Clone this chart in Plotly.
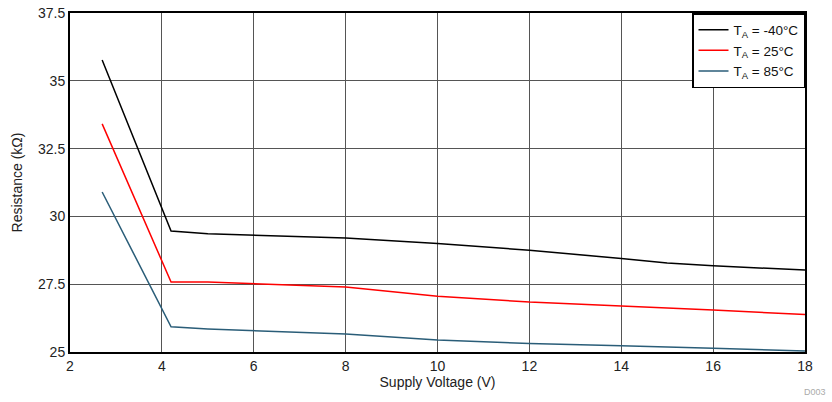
import plotly.graph_objects as go

voltage = [2.7, 4.2, 5, 6, 8, 10, 12, 14, 15, 16, 18]
r_m40 = [35.77, 29.46, 29.36, 29.3, 29.2, 29.0, 28.75, 28.45, 28.28, 28.18, 28.02]
r_25 = [33.41, 27.58, 27.58, 27.52, 27.4, 27.06, 26.84, 26.7, 26.63, 26.55, 26.38]
r_85 = [30.9, 25.93, 25.85, 25.78, 25.66, 25.44, 25.31, 25.23, 25.19, 25.14, 25.04]

series = [
    ("T<sub>A</sub> = -40°C", r_m40, "#000000"),
    ("T<sub>A</sub> = 25°C", r_25, "#ff0000"),
    ("T<sub>A</sub> = 85°C", r_85, "#2a5d78"),
]

x_ticks = [2, 4, 6, 8, 10, 12, 14, 16, 18]
y_ticks = [25, 27.5, 30, 32.5, 35, 37.5]
y_tick_labels = ["25", "27.5", "30", "32.5", "35", "37.5"]

fig = go.Figure()
for name, vals, color in series:
    fig.add_trace(go.Scatter(x=voltage, y=vals, mode="lines", name=name,
                             line=dict(color=color, width=1.5)))

font_family = "Liberation Sans, Arial, sans-serif"
fig.update_layout(
    width=832, height=402,
    margin=dict(l=70, r=27, t=13, b=50, autoexpand=False),
    paper_bgcolor="white", plot_bgcolor="white",
    font=dict(family=font_family, size=14, color="#222"),
    showlegend=True,
    legend=dict(x=1, y=1, xanchor="right", yanchor="top",
                bordercolor="black", borderwidth=1.5, bgcolor="white",
                font=dict(size=13.5, color="#111"), tracegroupgap=0,
                itemwidth=30),
    xaxis=dict(range=[2, 18], tickvals=x_ticks, showgrid=True,
               gridcolor="#555", gridwidth=1, showline=True, linecolor="black",
               linewidth=2, mirror=True, ticks="", zeroline=False,
               automargin=False, ticklabeloverflow="allow",
               title=dict(text="Supply Voltage (V)", standoff=2,
                          font=dict(size=14))),
    yaxis=dict(range=[25, 37.5], tickvals=y_ticks, ticktext=y_tick_labels,
               showgrid=True, gridcolor="#555", gridwidth=1, showline=True,
               linecolor="black", linewidth=2, mirror=True, ticks="",
               zeroline=False, automargin=False, ticklabeloverflow="allow",
               title=dict(text="Resistance (kΩ)", standoff=12,
                          font=dict(size=14))),
    annotations=[dict(text="D003", xref="paper", yref="paper", x=1.0313, y=-0.1386,
                      xanchor="right", yanchor="bottom", showarrow=False,
                      font=dict(size=9, color="#aaa"))],
)

fig.write_html("out.html", config={"displayModeBar": False},
               post_script="document.body.style.margin='0';")
